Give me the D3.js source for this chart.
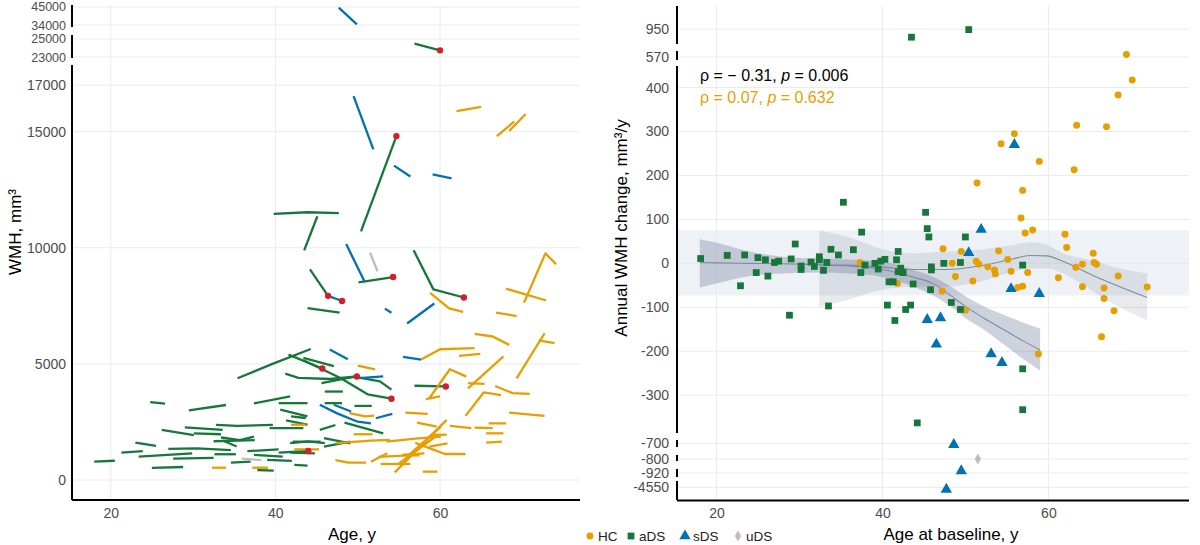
<!DOCTYPE html>
<html><head><meta charset="utf-8">
<script src="https://cdn.jsdelivr.net/npm/d3@7"></script>
<style>body{margin:0;background:#fff;} svg text{font-family:"Liberation Sans",Arial,sans-serif;}</style>
</head><body>
<script>
// ---------------- DATA ----------------
const xTicks = [20, 40, 60];
const leftTicksTop = [45000, 34000];
const leftTicksMid = [25000, 23000];
const leftTicksMain = [0, 5000, 10000, 15000, 17000];
const rightTicks = [[950], [570], [400, 300, 200, 100, 0, -100, -200, -300], [-700], [-800], [-920], [-4550]];
const legendLabels = ["HC", "aDS", "sDS", "uDS"];

// WMH trajectories [age, WMH]
const hcTraj = [
 [[62.0,15890],[65.0,16070]], [[66.9,14810],[69.0,15430]], [[68.4,15030],[70.4,15760]],
 [[70.2,7640],[72.8,9760],[74.1,9290]], [[68.0,8240],[72.9,7730]], [[66.8,7210],[69.3,7060]],
 [[58.8,8060],[61.1,7390],[62.8,7240]], [[64.2,6290],[66.4,6180],[68.4,5820]],
 [[57.7,5190],[60.0,5630],[64.2,5680]], [[62.3,5350],[64.9,5430]], [[69.3,4380],[72.7,6320]],
 [[72.0,6010],[73.9,5890]], [[63.4,3950],[67.7,5320]], [[58.7,3520],[61.2,4770],[63.2,4450]],
 [[58.3,3480],[60.0,3600]], [[63.4,4170],[65.4,4140]], [[66.7,4050],[68.8,3740],[70.9,3710]],
 [[63.1,2760],[65.3,3770],[67.4,3660]], [[68.4,2900],[72.7,2760]], [[61.2,2330],[63.8,2230]],
 [[64.2,2260],[66.4,2230]], [[65.9,2440],[68.0,2440]], [[65.6,2010],[67.7,2010]],
 [[65.6,1610],[67.5,1650]], [[55.8,2900],[58.5,2850]], [[57.2,2470],[59.6,2300]],
 [[50.0,4930],[52.1,4760]], [[49.0,2880],[50.9,2740],[52.0,2770]], [[49.5,1970],[51.8,1970]],
 [[47.4,1590],[51.6,1700],[53.9,1730]], [[53.5,1650],[57.0,1780],[60.1,1870]], [[59.0,1950],[60.8,1950]],
 [[57.0,1600],[58.7,1370],[60.6,1120],[63.1,1120]], [[58.7,1440],[60.9,1580]], [[51.6,790],[53.6,1150]],
 [[52.8,690],[56.4,690]], [[47.3,860],[48.9,750],[51.0,750]], [[55.4,1080],[58.1,1150]],
 [[57.9,360],[59.7,360]], [[54.5,330],[60.8,2590]], [[55.0,700],[59.7,1940]], [[56.0,1010],[60.1,2300]],
 [[32.3,530],[34.0,530]], [[37.2,530],[39.1,530]], [[41.9,2380],[43.7,2380]], [[42.3,1320],[45.3,1320]],
 [[52.5,1000],[55.5,1050],[57.5,1060]]
];
const adsTraj = [
 [[56.9,24480],[60.0,23740]],
 [[50.4,10710],[54.7,14810]], [[39.8,11460],[43.9,11530],[47.7,11490]], [[43.5,9890],[45.1,11360]],
 [[50.1,8510],[54.3,8740]], [[56.8,9890],[59.2,8210],[62.9,7860]], [[44.2,9070],[46.4,7930]],
 [[43.9,7400],[47.8,7210]], [[35.4,4380],[39.5,4980],[44.3,5640]], [[41.6,5400],[45.7,4800]],
 [[43.4,5260],[47.1,4900]], [[41.2,4580],[42.8,4400],[46.7,4350],[49.9,4460]],
 [[43.4,5160],[47.9,4390],[51.2,3690],[54.1,3500]], [[45.6,4170],[48.1,4340],[49.9,4460]],
 [[49.7,4440],[52.7,4250],[54.1,3890]], [[46.0,3810],[48.2,3810]], [[46.0,3310],[48.1,3310]],
 [[49.6,3190],[51.7,3190]], [[48.4,2470],[53.1,2010]], [[45.4,2160],[47.3,2370]],
 [[45.9,1800],[49.1,1580]], [[45.9,1440],[49.1,1650]], [[56.9,4060],[60.7,4030]],
 [[18.0,790],[20.5,830]], [[21.3,1180],[23.9,1240]], [[23.0,1610],[25.5,1470]], [[24.8,3350],[26.6,3290]],
 [[23.4,1010],[29.9,1150]], [[25.0,520],[28.8,560]], [[26.2,2160],[30.1,1930]],
 [[27.0,1340],[30.5,1360],[34.6,1290]], [[27.6,920],[32.5,950]], [[29.5,3000],[34.0,3230]],
 [[30.1,2010],[33.4,1970]], [[32.5,1670],[37.5,1720]], [[32.6,1110],[35.2,1110]],
 [[32.8,2370],[35.4,2330],[39.7,2370]], [[33.6,1700],[35.3,1440]], [[34.6,750],[37.0,790]],
 [[36.6,1240],[40.4,1320]], [[37.4,3300],[41.8,3600]], [[37.8,430],[39.8,400]],
 [[29.0,2270],[33.6,2160]], [[33.4,1830],[35.7,1720],[37.4,1870]], [[39.3,2230],[43.4,2230]],
 [[40.4,3310],[43.9,3310]], [[40.6,3030],[43.9,2740]], [[41.3,2570],[43.9,2380]],
 [[41.9,2740],[43.7,2670]], [[41.8,1590],[44.0,1660],[46.0,1590]], [[42.3,650],[43.9,620]],
 [[40.4,1180],[44.0,1250]], [[41.8,1180],[44.8,1150]], [[37.4,1080],[40.9,1010]],
 [[39.0,870],[42.0,820]], [[42.1,1650],[45.5,1650]]
];
const sdsTraj = [
 [[47.7,44600],[49.9,34400]],
 [[49.5,16530],[51.9,14240]], [[54.4,13540],[56.4,13070]], [[59.1,13160],[61.4,12990]],
 [[48.6,10160],[50.8,8570]], [[46.4,7930],[48.1,7710]], [[53.3,7380],[54.1,7200]],
 [[56.0,6740],[59.3,7600]], [[46.6,5620],[48.8,5200]], [[55.5,5300],[57.7,5180]],
 [[50.2,4390],[53.1,4460]], [[45.4,3240],[47.5,2870],[50.0,2510],[51.6,2440]],
 [[47.1,3240],[49.2,2950]], [[52.2,2660],[54.2,2850]]
];
const udsTraj = [ [[51.5,9790],[52.4,8990]], [[35.9,920],[38.3,860]] ];
const redDots = [[60.0,23740],[54.7,14810],[54.3,8740],[62.9,7860],[46.4,7930],[48.1,7710],
 [45.7,4800],[49.9,4460],[54.1,3500],[60.7,4030],[44.0,1250]];

// Annual WMH change [age at baseline, mm3/y]
const hcChange = [[54.3,272],[55.9,295],[58.9,232],[51.4,183],[63.4,314],[67.0,311],[63.1,213],[56.9,166],
 [56.7,103],[57.2,69],[58.1,76],[62.0,66],[62.2,36],[65.4,23],[69.4,578],[70.1,417],[68.4,383],
 [37.3,2],[41.8,-46],[47.2,-63],[47.3,33],[48.4,0],[48.8,-30],[49.5,27],[50.0,-107],[50.9,-40],
 [51.3,5],[51.6,-2],[52.7,-8],[53.5,-15],[53.6,-24],[54.0,28],[55.1,9],[55.5,-18],[56.3,-55],
 [56.9,-52],[57.5,-21],[61.2,-33],[63.3,-9],[64.1,-2],[64.1,-53],[65.5,2],[65.8,-2],[66.7,-56],
 [66.7,-80],[67.9,-108],[68.4,-29],[71.9,-54],[58.8,-206],[66.4,-167]];
const adsChange = [[18.1,11],[21.3,18],[22.9,-51],[23.4,19],[24.8,-21],[25.0,13],[25.9,8],[26.2,-29],
 [27.0,2],[27.5,5],[28.8,-118],[29.0,10],[29.5,44],[30.2,-6],[30.2,-14],[31.4,3],[31.8,-7],[32.4,15],
 [32.4,8],[32.9,-16],[33.3,2],[33.5,-97],[33.8,32],[34.7,19],[35.3,139],[36.5,31],[37.5,71],[37.4,-21],
 [37.9,-4],[39.1,0],[39.5,-13],[39.8,5],[40.3,9],[40.6,-95],[40.8,-42],[41.3,-42],[41.5,-130],[41.7,8],
 [41.9,27],[41.9,-19],[42.2,-11],[42.5,-21],[42.8,-105],[43.4,-95],[43.7,-47],[45.2,116],[45.4,79],
 [45.6,60],[45.8,-60],[45.9,-8],[45.9,-15],[47.4,0],[48.3,-89],[49.4,2],[49.4,-105],[50.0,60],
 [56.9,-4],[56.9,-240],[56.9,-333],[44.2,-363],[43.5,910],[50.4,948]];
const sdsChange = [[55.9,270],[51.9,77],[50.4,24],[55.5,-58],[58.9,-69],[45.4,-128],[47.0,-124],
 [46.5,-184],[53.1,-206],[54.4,-226],[48.6,-705],[49.5,-912],[47.7,-4566]];
const udsChange = [[51.5,-800]];

// LOESS fits
const adsSmoothAge = [18,20,24,28,32,36,40,44,46,48,50,52,55,57,59];
const adsSmoothFit = [2,1,0,-1,-3,-6,-14,-33,-45,-70,-98,-122,-155,-177,-197];
const adsSmoothLo  = [-55,-46,-29,-23,-21,-23,-31,-55,-72,-95,-125,-148,-190,-218,-244];
const adsSmoothHi  = [55,47,27,15,11,9,4,-17,-30,-50,-75,-96,-120,-135,-148];
const hcSmoothAge = [32.4,35.7,39.7,43.7,47.7,51.7,55.7,57.8,59.8,61.8,65.8,67.8,71.9];
const hcSmoothFit = [-6,-4,-8,-14,-14,-6,10,18,17,4,-31,-47,-78];
const hcSmoothLo  = [-99,-84,-61,-53,-53,-42,-19,-11,-11,-23,-69,-92,-130];
const hcSmoothHi  = [75,61,34,23,27,31,42,48,42,23,4,-8,-23];
const refBand = [-73, 75];

// ---------------- DRAW ----------------
const COL = {HC:'#E69F00', aDS:'#17773A', sDS:'#0072B2', uDS:'#BDBDBD'};
const RED = '#D0202C', GRID = '#EBEBEB', TICK = '#4D4D4D';
const FONT = '"Liberation Sans",Arial,sans-serif';
const svg = d3.select('body').append('svg').attr('width',1200).attr('height',545);

function styleAxis(g){
  g.attr('font-family', FONT);
  g.select('.domain').remove();
  g.selectAll('text').attr('fill', TICK).style('font-size','14px');
}

// ===== LEFT PANEL =====
const lx = d3.scaleLinear().domain([15.3, 77]).range([72, 580]);
const leftFacets = [
  {min:30000, y:d3.scaleLinear().domain([32778,46222]).range([27,5]), ticks:leftTicksTop},
  {min:20000, y:d3.scaleLinear().domain([22889,25444]).range([58,35]), ticks:leftTicksMid},
  {min:-Infinity, y:d3.scaleLinear().domain([-861,17872]).range([500,65]), ticks:leftTicksMain}
];
const lFacet = v => leftFacets.find(f => v >= f.min);
const gL = svg.append('g');
xTicks.forEach(t => gL.append('line').attr('x1',lx(t)).attr('x2',lx(t)).attr('y1',5).attr('y2',500)
  .attr('stroke',GRID).attr('stroke-width',1));
leftFacets.forEach((f,i) => {
  f.ticks.forEach(t => gL.append('line').attr('x1',72).attr('x2',580).attr('y1',f.y(t)).attr('y2',f.y(t))
    .attr('stroke',GRID).attr('stroke-width',1));
  gL.append('g').attr('transform','translate(72,0)')
    .call(d3.axisLeft(f.y).tickValues(f.ticks).tickSize(0).tickPadding(6).tickFormat(d => String(d)))
    .call(styleAxis)
    .call(g => { if (i < 2) g.selectAll('text').style('font-size','12.5px'); });
  gL.append('line').attr('x1',72).attr('x2',72).attr('y1',f.y.range()[1]).attr('y2',f.y.range()[0])
    .attr('stroke','#000').attr('stroke-width',2);
});
const trajGroups = [['aDS',adsTraj],['HC',hcTraj],['sDS',sdsTraj],['uDS',udsTraj]];
trajGroups.forEach(([k, arr]) => {
  arr.forEach(pts => {
    const f = lFacet(pts[0][1]);
    gL.append('path').attr('d', d3.line().x(d => lx(d[0])).y(d => f.y(d[1]))(pts))
      .attr('fill','none').attr('stroke',COL[k]).attr('stroke-width',2.3).attr('stroke-linejoin','round');
  });
});
gL.selectAll('circle.red').data(redDots).join('circle')
  .attr('cx', d => lx(d[0])).attr('cy', d => lFacet(d[1]).y(d[1])).attr('r',3.2).attr('fill',RED);
gL.append('g').attr('transform','translate(0,500)')
  .call(d3.axisBottom(lx).tickValues(xTicks).tickSize(0).tickPadding(8)).call(styleAxis);
gL.append('line').attr('x1',72).attr('x2',580).attr('y1',500).attr('y2',500).attr('stroke','#000').attr('stroke-width',2);
gL.append('text').attr('x',352).attr('y',540).attr('text-anchor','middle').style('font-size','17px').text('Age, y');
gL.append('text').attr('transform','translate(21,232) rotate(-90)').attr('text-anchor','middle')
  .style('font-size','17px').text('WMH, mm³');

// ===== RIGHT PANEL =====
const rx = d3.scaleLinear().domain([15.25, 76.94]).range([677, 1189]);
const rightFacets = [
  {min:800, y:d3.scaleLinear().domain([876,1066]).range([44,6])},
  {min:500, y:d3.scaleLinear().domain([560,590]).range([60,51])},
  {min:-400, y:d3.scaleLinear().domain([-386,449]).range([433,66])},
  {min:-750, y:d3.scaleLinear().domain([-715,-685]).range([447,440])},
  {min:-850, y:d3.scaleLinear().domain([-810,-780]).range([461,455])},
  {min:-1000, y:d3.scaleLinear().domain([-935,-905]).range([477,469])},
  {min:-Infinity, y:d3.scaleLinear().domain([-4650,-4500]).range([500,481])}
];
rightFacets.forEach((f,i) => f.ticks = rightTicks[i]);
const rFacet = v => rightFacets.find(f => v >= f.min);
const mainY = rightFacets[2].y;
const gR = svg.append('g');
xTicks.forEach(t => gR.append('line').attr('x1',rx(t)).attr('x2',rx(t)).attr('y1',6).attr('y2',500)
  .attr('stroke',GRID).attr('stroke-width',1));
rightFacets.forEach(f => {
  f.ticks.forEach(t => gR.append('line').attr('x1',677).attr('x2',1189).attr('y1',f.y(t)).attr('y2',f.y(t))
    .attr('stroke',GRID).attr('stroke-width',1));
});
// reference band
gR.append('rect').attr('x',677).attr('width',1189-677)
  .attr('y',mainY(refBand[1])).attr('height',mainY(refBand[0])-mainY(refBand[1]))
  .attr('fill','#E3E7EF').attr('opacity',0.6);
function smooth(age, fit, lo, hi, op){
  const rows = age.map((a,i) => ({a, f:fit[i], l:lo[i], h:hi[i]}));
  gR.append('path').attr('d', d3.area().curve(d3.curveMonotoneX).x(d => rx(d.a)).y0(d => mainY(d.l)).y1(d => mainY(d.h))(rows))
    .attr('fill','#5D6B8A').attr('opacity',op);
  return rows;
}
const hcRows = smooth(hcSmoothAge, hcSmoothFit, hcSmoothLo, hcSmoothHi, 0.14);
const adsRows = smooth(adsSmoothAge, adsSmoothFit, adsSmoothLo, adsSmoothHi, 0.3);
[hcRows, adsRows].forEach(rows => gR.append('path')
  .attr('d', d3.line().curve(d3.curveMonotoneX).x(d => rx(d.a)).y(d => mainY(d.f))(rows))
  .attr('fill','none').attr('stroke','#7F8AA3').attr('stroke-width',1.1));
// points
const shapes = {HC:d3.symbolCircle, aDS:d3.symbolSquare, sDS:d3.symbolTriangle, uDS:d3.symbolDiamond};
const sizes = {HC:38, aDS:46, sDS:56, uDS:34};
[['HC',hcChange],['aDS',adsChange],['sDS',sdsChange],['uDS',udsChange]].forEach(([k, arr]) => {
  gR.selectAll('path.p'+k).data(arr).join('path')
    .attr('transform', d => `translate(${rx(d[0])},${rFacet(d[1]).y(d[1])})`)
    .attr('d', d3.symbol().type(shapes[k]).size(sizes[k])).attr('fill', COL[k]);
});
// axes
rightFacets.forEach(f => {
  gR.append('g').attr('transform','translate(677,0)')
    .call(d3.axisLeft(f.y).tickValues(f.ticks).tickSize(0).tickPadding(8).tickFormat(d => String(d)))
    .call(styleAxis);
  gR.append('line').attr('x1',677).attr('x2',677).attr('y1',f.y.range()[1]).attr('y2',f.y.range()[0])
    .attr('stroke','#000').attr('stroke-width',2);
});
gR.append('g').attr('transform','translate(0,500)')
  .call(d3.axisBottom(rx).tickValues(xTicks).tickSize(0).tickPadding(8)).call(styleAxis);
gR.append('line').attr('x1',677).attr('x2',1189).attr('y1',500.5).attr('y2',500.5).attr('stroke','#000').attr('stroke-width',2);
gR.append('text').attr('x',951).attr('y',540).attr('text-anchor','middle').style('font-size','17px').text('Age at baseline, y');
gR.append('text').attr('transform','translate(627,228) rotate(-90)').attr('text-anchor','middle')
  .style('font-size','17px').text('Annual WMH change, mm³/y');
// annotations
const a1 = gR.append('text').attr('x',700).attr('y',81).style('font-size','16px').attr('fill','#000');
a1.append('tspan').text('ρ = − 0.31, '); a1.append('tspan').attr('font-style','italic').text('p');
a1.append('tspan').text(' = 0.006');
const a2 = gR.append('text').attr('x',700).attr('y',103).style('font-size','16px').attr('fill',COL.HC);
a2.append('tspan').text('ρ = 0.07, '); a2.append('tspan').attr('font-style','italic').text('p');
a2.append('tspan').text(' = 0.632');

// ===== LEGEND =====
const legX = [590, 631, 685, 738];
const gLeg = svg.append('g');
legendLabels.forEach((k,i) => {
  gLeg.append('path').attr('transform',`translate(${legX[i]},536)`)
    .attr('d', d3.symbol().type(shapes[k]).size(sizes[k])).attr('fill', COL[k]);
  gLeg.append('text').attr('x', legX[i]+8).attr('y', 541).style('font-size','13.5px').attr('fill','#222').text(k);
});
</script></body></html>
